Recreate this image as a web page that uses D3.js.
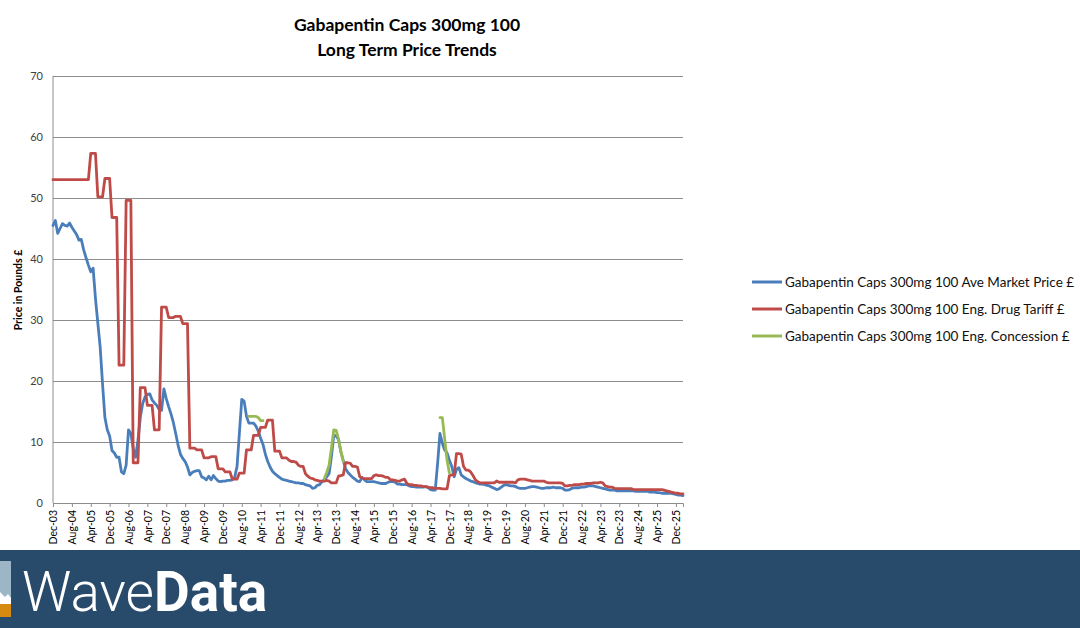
<!DOCTYPE html>
<html>
<head>
<meta charset="utf-8">
<script src="https://cdn.jsdelivr.net/npm/d3@7"></script>
<style>
body { margin:0; background:#fff; }
svg { display:block; font-family: Lato, "Open Sans", sans-serif; }
</style>
</head>
<body>
<div id="container"></div>
<script>
// monthly values, Dec-03 (index 0) to Mar-26
var marketPrice = [
	45.5, 46.3, 44.2, 45.0, 45.8, 45.5, 45.4, 45.9, 45.2, 44.6, 44.0, 43.1,
	43.2, 41.5, 40.2, 39.0, 37.9, 38.5, 33.5, 29.5, 25.5, 19.5, 14.0, 12.0,
	11.0, 8.6, 8.2, 7.5, 7.5, 5.1, 4.8, 6.2, 12.0, 11.4, 8.9, 7.5,
	10.3, 14.0, 16.3, 17.4, 17.8, 17.9, 16.9, 16.4, 16.0, 15.3, 15.2, 18.7,
	17.1, 15.8, 14.6, 13.2, 11.4, 9.5, 8.0, 7.3, 6.8, 5.9, 4.6, 5.0,
	5.2, 5.3, 5.3, 4.3, 4.1, 3.8, 4.4, 3.8, 4.5, 4.0, 3.6, 3.5,
	3.6, 3.6, 3.7, 3.7, 3.8, 4.2, 6.0, 11.5, 17.0, 16.7, 14.2, 13.1,
	13.1, 13.1, 12.6, 11.8, 10.6, 9.6, 8.0, 6.8, 5.9, 5.2, 4.8, 4.5,
	4.2, 3.9, 3.8, 3.7, 3.6, 3.5, 3.4, 3.3, 3.3, 3.2, 3.2, 3.0,
	2.9, 2.8, 2.4, 2.5, 2.9, 3.0, 3.5, 3.8, 4.3, 4.8, 7.6, 11.1,
	11.0, 10.4, 8.4, 7.0, 5.6, 5.0, 4.6, 4.2, 3.9, 3.6, 3.5, 4.2,
	3.8, 3.5, 3.5, 3.5, 3.5, 3.4, 3.3, 3.2, 3.2, 3.2, 3.4, 3.5,
	3.5, 3.4, 3.1, 3.1, 3.0, 3.0, 3.0, 2.8, 2.7, 2.7, 2.6, 2.6,
	2.6, 2.6, 2.7, 2.5, 2.2, 2.1, 2.1, 6.5, 11.4, 9.8, 8.7, 8.2,
	7.0, 6.0, 4.3, 5.5, 5.8, 4.6, 4.3, 4.0, 3.8, 3.6, 3.5, 3.3,
	3.2, 3.1, 3.1, 3.0, 2.9, 2.8, 2.6, 2.4, 2.2, 2.3, 2.6, 2.9,
	3.0, 2.9, 2.8, 2.8, 2.7, 2.5, 2.4, 2.4, 2.4, 2.5, 2.6, 2.7,
	2.7, 2.6, 2.5, 2.4, 2.4, 2.5, 2.5, 2.5, 2.6, 2.5, 2.5, 2.5,
	2.4, 2.1, 2.1, 2.2, 2.4, 2.5, 2.5, 2.5, 2.6, 2.6, 2.7, 2.8,
	2.8, 2.8, 2.7, 2.6, 2.5, 2.4, 2.3, 2.2, 2.1, 2.1, 2.1, 2.0,
	2.0, 2.0, 2.0, 2.0, 2.0, 2.0, 2.0, 1.9, 1.9, 1.9, 1.9, 1.9,
	1.9, 1.8, 1.8, 1.8, 1.7, 1.7, 1.6, 1.6, 1.6, 1.6, 1.6, 1.5,
	1.4, 1.3, 1.3, 1.2
];

var drugTariff = [
	53.0, 53.0, 53.0, 53.0, 53.0, 53.0, 53.0, 53.0, 53.0, 53.0, 53.0, 53.0,
	53.0, 53.0, 53.0, 53.0, 57.3, 57.3, 57.3, 50.2, 50.2, 50.2, 53.2, 53.2,
	53.2, 46.8, 46.8, 46.8, 22.6, 22.6, 22.6, 49.6, 49.6, 49.6, 6.6, 6.6,
	6.6, 18.9, 18.9, 18.9, 16.0, 16.0, 16.0, 12.0, 12.0, 12.0, 32.1, 32.1,
	32.1, 30.4, 30.4, 30.4, 30.6, 30.6, 30.6, 29.4, 29.4, 29.4, 9.0, 9.0,
	9.0, 8.7, 8.7, 8.7, 7.4, 7.4, 7.4, 7.6, 7.6, 7.6, 5.6, 5.6,
	5.6, 5.1, 5.1, 5.1, 3.9, 3.9, 3.9, 4.9, 4.9, 4.9, 8.7, 8.7,
	8.7, 11.1, 11.1, 11.1, 12.4, 12.4, 12.4, 13.6, 13.6, 13.6, 8.5, 8.5,
	8.5, 7.4, 7.4, 7.4, 7.0, 6.8, 6.8, 6.7, 6.2, 6.0, 6.0, 4.8,
	4.4, 4.1, 4.0, 3.8, 3.7, 3.6, 3.6, 3.6, 3.7, 3.6, 3.3, 3.3,
	3.3, 4.4, 4.5, 4.6, 6.6, 6.6, 6.5, 6.0, 6.0, 5.9, 4.3, 4.1,
	4.0, 4.0, 4.0, 4.0, 4.5, 4.6, 4.5, 4.5, 4.4, 4.2, 4.2, 3.8,
	3.8, 3.7, 3.6, 3.6, 3.8, 3.9, 3.2, 3.0, 3.0, 2.9, 2.9, 2.8,
	2.8, 2.7, 2.7, 2.6, 2.5, 2.5, 2.4, 2.4, 2.4, 2.3, 2.3, 2.3,
	4.5, 4.6, 4.6, 8.1, 8.1, 8.0, 6.0, 5.4, 5.4, 5.1, 4.5, 3.8,
	3.5, 3.3, 3.3, 3.3, 3.3, 3.3, 3.3, 3.3, 3.6, 3.4, 3.4, 3.4,
	3.4, 3.4, 3.4, 3.4, 3.3, 3.8, 3.9, 3.9, 3.9, 3.8, 3.7, 3.6,
	3.6, 3.6, 3.6, 3.6, 3.6, 3.4, 3.3, 3.3, 3.3, 3.3, 3.3, 3.3,
	3.2, 2.8, 2.8, 2.9, 2.9, 3.0, 3.0, 3.0, 3.1, 3.1, 3.2, 3.2,
	3.2, 3.3, 3.3, 3.3, 3.4, 3.3, 2.8, 2.7, 2.6, 2.6, 2.4, 2.35,
	2.35, 2.35, 2.35, 2.35, 2.35, 2.35, 2.2, 2.2, 2.2, 2.2, 2.2, 2.2,
	2.2, 2.2, 2.2, 2.2, 2.2, 2.2, 2.2, 2.1, 2.0, 1.9, 1.8, 1.7,
	1.6, 1.6, 1.5, 1.5
];

// concession only shown in three spells (start month index + values)
var concessionStart = [83, 115, 164];
var concession2010 = [14.2, 14.2, 14.2, 14.2, 14.0, 13.5, 13.5];
var concession2013 = [4.0, 5.0, 6.2, 9.0, 12.0, 11.9, 10.5, 8.5, 6.8];
var concession2017 = [14.0, 14.0, 10.5, 7.0, 4.9];

var tickLabels = ["Dec-03","Aug-04","Apr-05","Dec-05","Aug-06","Apr-07","Dec-07","Aug-08",
	"Apr-09","Dec-09","Aug-10","Apr-11","Dec-11","Aug-12","Apr-13","Dec-13","Aug-14",
	"Apr-15","Dec-15","Aug-16","Apr-17","Dec-17","Aug-18","Apr-19","Dec-19","Aug-20",
	"Apr-21","Dec-21","Aug-22","Apr-23","Dec-23","Aug-24","Apr-25","Dec-25"];
var yTicks = [0, 10, 20, 30, 40, 50, 60, 70];

var seriesNames = ["Gabapentin Caps 300mg 100 Ave Market Price \u00a3",
	"Gabapentin Caps 300mg 100 Eng. Drug Tariff \u00a3",
	"Gabapentin Caps 300mg 100 Eng. Concession \u00a3"];
var seriesColors = ["#4a7ebb", "#be4b48", "#98b954"];

var W = 1080, H = 628;
var plot = {left: 53, right: 683, top: 76, bottom: 503};

var svg = d3.select("#container").append("svg")
	.attr("width", W)
	.attr("height", H);

var x = d3.scaleLinear()
	.domain([0, marketPrice.length - 1])
	.range([plot.left, plot.right]);

var y = d3.scaleLinear()
	.domain([0, 70])
	.range([plot.bottom, plot.top]);

// title
svg.append("text")
	.attr("x", 407).attr("y", 31)
	.attr("text-anchor", "middle")
	.style("font-size", "17.5px").style("font-weight", "bold").style("fill", "#000")
	.text("Gabapentin Caps 300mg 100");
svg.append("text")
	.attr("x", 407).attr("y", 56)
	.attr("text-anchor", "middle")
	.style("font-size", "17.5px").style("font-weight", "bold").style("fill", "#000")
	.text("Long Term Price Trends");

// gridlines + y labels
var yAxis = d3.axisLeft(y)
	.tickValues(yTicks)
	.tickSize(-(plot.right - plot.left))
	.tickPadding(10)
	.tickFormat(d3.format("d"));

var gy = svg.append("g")
	.attr("transform", "translate(" + plot.left + ",0)")
	.call(yAxis);
gy.select(".domain").remove();
gy.selectAll(".tick line").attr("stroke", "#8c8c8c").attr("stroke-width", 1);
gy.selectAll(".tick text").style("font-size", "11px").style("fill", "#404040")
	.style("font-family", "Lato, sans-serif");

svg.append("line")
	.attr("x1", plot.left).attr("x2", plot.left)
	.attr("y1", plot.top).attr("y2", plot.bottom)
	.attr("stroke", "#8c8c8c");

svg.append("text")
	.attr("transform", "translate(22," + 290 + ") rotate(-90)")
	.attr("text-anchor", "middle")
	.style("font-size", "10.5px").style("font-weight", "bold")
	.text("Price in Pounds \u00a3");

// x axis
var xAxis = d3.axisBottom(x)
	.tickValues(tickLabels.map((d, i) => i * 8))
	.tickFormat((d, i) => tickLabels[i])
	.tickSize(4);

var gx = svg.append("g")
	.attr("transform", "translate(0," + plot.bottom + ")")
	.call(xAxis);
gx.select(".domain").attr("stroke", "#8c8c8c");
gx.selectAll(".tick line").attr("stroke", "#8c8c8c");
gx.selectAll(".tick text")
	.attr("transform", "rotate(-90)")
	.attr("x", -7).attr("y", 0).attr("dy", "0.35em")
	.style("text-anchor", "end")
	.style("font-size", "10.5px").style("fill", "#000")
	.style("font-family", "Lato, sans-serif");

// lines
var line = d3.line()
	.x(d => x(d[0]))
	.y(d => y(d[1]));

function drawSeries(values, start, color)
{
	var pts = values.map((v, i) => [start + i, v]);
	svg.append("path")
		.attr("d", line(pts))
		.attr("fill", "none")
		.attr("stroke", color)
		.attr("stroke-width", 2.8)
		.attr("stroke-linejoin", "round")
		.attr("stroke-linecap", "round");
}

drawSeries(marketPrice, 0, seriesColors[0]);
drawSeries(drugTariff, 0, seriesColors[1]);
drawSeries(concession2010, concessionStart[0], seriesColors[2]);
drawSeries(concession2013, concessionStart[1], seriesColors[2]);
drawSeries(concession2017, concessionStart[2], seriesColors[2]);

// legend
var legend = svg.append("g");
seriesNames.forEach(function(name, i) {
	var ly = 282 + i * 27;
	legend.append("line")
		.attr("x1", 752).attr("x2", 782)
		.attr("y1", ly).attr("y2", ly)
		.attr("stroke", seriesColors[i]).attr("stroke-width", 3);
	legend.append("text")
		.attr("x", 785).attr("y", ly).attr("dy", "0.35em")
		.style("font-size", "13.5px").style("fill", "#111")
		.text(name);
});

// banner
svg.append("rect")
	.attr("x", 0).attr("y", 550)
	.attr("width", W).attr("height", H - 550)
	.attr("fill", "#284a6b");

var logo = svg.append("g");
logo.append("rect").attr("x", 0).attr("y", 561).attr("width", 11).attr("height", 56).attr("fill", "#9cb6c8");
logo.append("rect").attr("x", 0).attr("y", 600).attr("width", 11).attr("height", 17).attr("fill", "#d78a10");
logo.append("path").attr("d", "M0,592 L5,597 L8,594 L11,598 L11,604 L0,604 Z").attr("fill", "#ffffff");

var brand = svg.append("text")
	.attr("x", 22).attr("y", 611)
	.style("font-family", "Roboto, sans-serif")
	.style("font-size", "55px")
	.style("fill", "#ffffff");
brand.append("tspan").style("font-weight", 300).text("Wave");
brand.append("tspan").style("font-weight", 700).text("Data");
</script>
</body>
</html>
